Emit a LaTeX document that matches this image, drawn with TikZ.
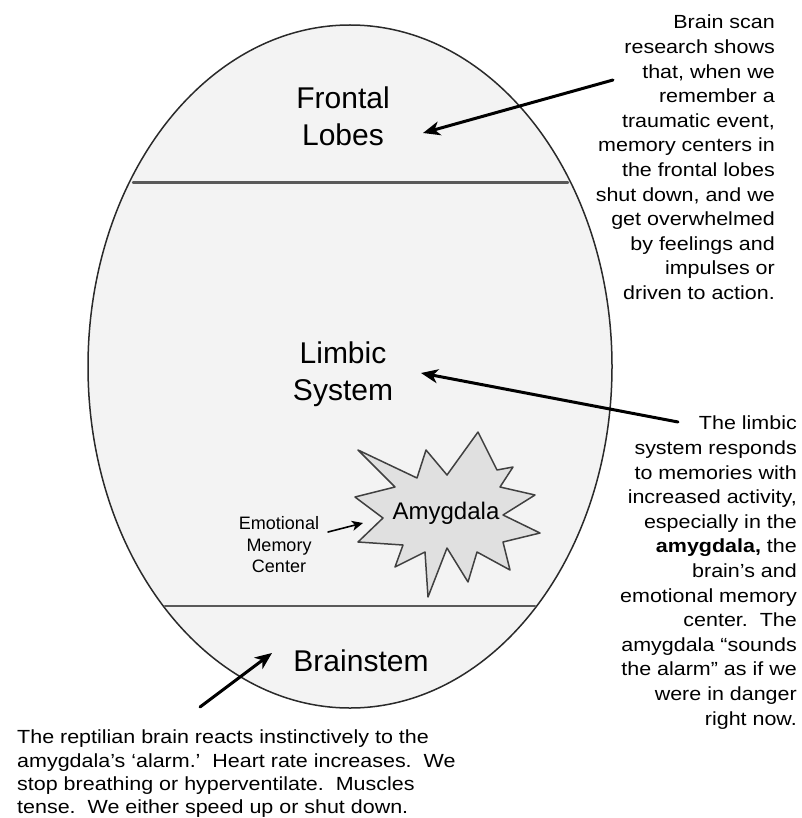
\documentclass[tikz,border=0pt]{standalone}
\usepackage{fontspec}
\setmainfont{Liberation Sans}
\newfontfamily\notefont[FakeStretch=1.13]{Liberation Sans}
\usetikzlibrary{arrows.meta}
\definecolor{brainfill}{HTML}{F3F3F3}
\definecolor{burstfill}{HTML}{E0E0E0}
\definecolor{inkgray}{HTML}{2A2A2A}

\begin{document}
\begin{tikzpicture}[line cap=round,line join=round,>={Stealth[length=17pt,width=14pt,inset=5pt]},x=1pt,y=-1pt,
  bigtext/.style={inner sep=0pt,align=center,font=\fontsize{30}{37}\selectfont},
  notetext/.style={inner sep=0pt,font=\notefont\fontsize{19}{24.6}\selectfont},
  pointer/.style={->,line width=3pt}]
\useasboundingbox (0,0) rectangle (801,818);

\draw[fill=brainfill,draw=inkgray,line width=1.5pt] (350,366.5) ellipse [x radius=262, y radius=341.5];
\draw[line width=2.4pt,draw=black!65] (133,182.5) -- (568,182.5);
\draw[line width=2.4pt,draw=black!65] (165,606) -- (535,606);

\node[bigtext] (frontal) at (343,116) {Frontal\\Lobes};
\node[bigtext] (limbic) at (343,374) {Limbic\\System};
\node[bigtext] (brainstem) at (361,661) {Brainstem};

\draw[fill=burstfill,draw=black!75,line width=1.5pt] (358,450) -- (417,478) -- (426,450) -- (447,475)
  -- (478,432) -- (497,470) -- (513,467) -- (500,487) -- (535,495) -- (503,515) -- (540,533)
  -- (503,542) -- (510,570) -- (477,552) -- (468,582) -- (447,548) -- (428,597) -- (425,552)
  -- (395,567) -- (403,545) -- (358,542) -- (383,518) -- (355,497) -- (395,487) -- cycle;
\node[inner sep=0pt,font=\fontsize{24}{28}\selectfont] (amygdala) at (446,513) {Amygdala};
\coordinate (bursttip) at (363,523);

\node[inner sep=0pt,align=center,font=\fontsize{18}{21.5}\selectfont] (emotional) at (279,545) {Emotional\\Memory\\Center};

\node[notetext,align=right,anchor=north east] (scan) at (775,15) {Brain scan\\research shows\\that, when we\\remember a\\traumatic event,\\memory centers in\\the frontal lobes\\shut down, and we\\get overwhelmed\\by feelings and\\impulses or\\driven to action.};
\node[notetext,align=right,anchor=north east] (limbicnote) at (797,416) {The limbic\\system responds\\to memories with\\increased activity,\\especially in the\\\textbf{amygdala,} the\\brain’s and\\emotional memory\\center.\ \ The\\amygdala “sounds\\the alarm” as if we\\were in danger\\right now.};
\node[notetext,align=left,anchor=north west,font=\notefont\fontsize{19}{23.3}\selectfont] (reptile) at (17,730) {The reptilian brain reacts instinctively to the\\amygdala’s ‘alarm.’\ \ Heart rate increases.\ \ We\\stop breathing or hyperventilate.\ \ Muscles\\tense.\ \ We either speed up or shut down.};

\coordinate (scanstart) at (613,80);
\coordinate (frontaltip) at (423,133);
\coordinate (limbicstart) at (678,422);
\coordinate (limbictip) at (421,373);
\coordinate (reptilestart) at (200,707);
\coordinate (stemtip) at (272,653);
\coordinate (emotionalstart) at (328,532);

\draw[pointer] (scanstart) -- (frontaltip);
\draw[pointer] (limbicstart) -- (limbictip);
\draw[pointer] (reptilestart) -- (stemtip);
\draw[->,line width=1.6pt,>={Stealth[length=11pt,width=10pt,inset=3pt]}] (emotionalstart) -- (bursttip);
\end{tikzpicture}
\end{document}
